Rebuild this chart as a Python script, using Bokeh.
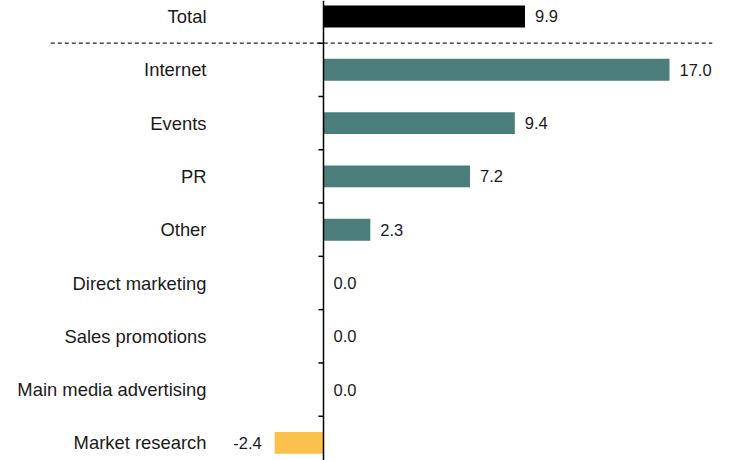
from bokeh.plotting import figure
from bokeh.models import ColumnDataSource, Range1d, Span
from bokeh.core.properties import value
from bokeh.embed import file_html
from bokeh.resources import INLINE

categories = ["Total", "Internet", "Events", "PR", "Other", "Direct marketing",
              "Sales promotions", "Main media advertising", "Market research"]
values = [9.9, 17.0, 9.4, 7.2, 2.3, 0.0, 0.0, 0.0, -2.4]
value_labels = ["9.9", "17.0", "9.4", "7.2", "2.3", "0.0", "0.0", "0.0", "-2.4"]

TEAL = "#4b7e7b"
YELLOW = "#fac14c"
BLACK = "#000000"

pos = list(range(len(categories)))
colors = []
for i, v in enumerate(values):
    if i == 0:
        colors.append(BLACK)
    elif v < 0:
        colors.append(YELLOW)
    else:
        colors.append(TEAL)

bars = ColumnDataSource(dict(y=pos, v=values, c=colors, cat=categories))

pos_idx = [i for i, v in enumerate(values) if v >= 0]
neg_idx = [i for i, v in enumerate(values) if v < 0]
lab_pos = ColumnDataSource(dict(x=[values[i] for i in pos_idx], y=[pos[i] for i in pos_idx],
                                t=[value_labels[i] for i in pos_idx]))
lab_neg = ColumnDataSource(dict(x=[values[i] for i in neg_idx], y=[pos[i] for i in neg_idx],
                                t=[value_labels[i] for i in neg_idx]))

p = figure(width=750, height=460, output_backend="svg", toolbar_location=None,
           x_axis_location=None, y_axis_location=None,
           x_range=Range1d(-15.87, 20.98), y_range=Range1d(8.33, -0.30),
           min_border=0, outline_line_color=None)
p.grid.visible = False

p.hbar(y="y", left=0, right="v", height=0.41, color="c", source=bars, line_color=None)

# category labels
p.text(x=-5.75, y="y", text="cat", source=bars, text_align="right", text_baseline="middle",
       text_font=value("Liberation Sans"), text_font_size="18.4px", text_color="#1a1a1a")

# value labels
p.text(x="x", y="y", text="t", source=lab_pos, x_offset=10, text_align="left",
       text_baseline="middle", text_font=value("Liberation Sans"), text_font_size="16.5px",
       text_color="#1a1a1a")
p.text(x="x", y="y", text="t", source=lab_neg, x_offset=-13, text_align="right",
       text_baseline="middle", text_font=value("Liberation Sans"), text_font_size="16.5px",
       text_color="#1a1a1a")

# dashed separator below Total
p.segment(x0=-13.4, x1=19.1, y0=0.5, y1=0.5, line_color="#222222", line_width=1.2,
          line_dash="4 3")

# zero axis line with ticks between categories
p.add_layout(Span(location=0, dimension="height", line_color=BLACK, line_width=1.5))
tick_y = [i + 0.5 for i in pos[:-1]]
p.segment(x0=[-0.25] * len(tick_y), x1=[0] * len(tick_y), y0=tick_y, y1=tick_y,
          line_color=BLACK, line_width=1.5)

open("out.html", "w").write(file_html(p, INLINE))
